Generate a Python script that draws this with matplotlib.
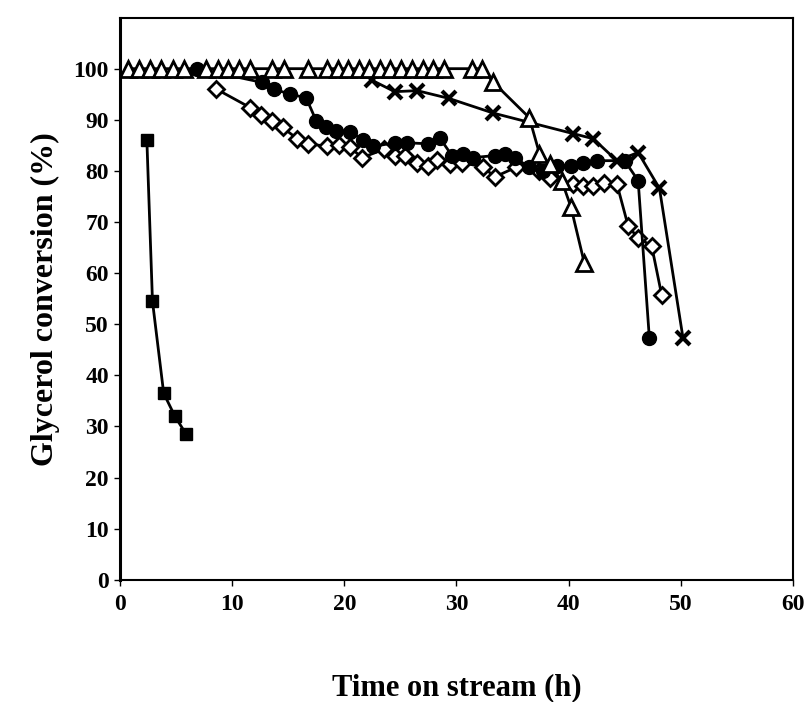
import matplotlib
matplotlib.use("Agg")
import matplotlib.pyplot as plt

# square series (fast deactivation)
sq_t = [2.4, 2.9, 3.9, 4.9, 5.9]
sq_c = [86, 54.5, 36.5, 32, 28.5]

# open triangles
tri_t = [0.7, 1.7, 2.7, 3.7, 4.7, 5.7, 7.7, 8.7, 9.6, 10.6, 11.6,
         13.6, 14.6, 16.8, 18.5, 19.4, 20.3, 21.3, 22.2, 23.2, 24.1,
         25.1, 26.0, 27.0, 27.9, 28.9, 31.4, 32.3, 33.3, 36.5, 37.4,
         38.3, 39.4, 40.2, 41.4]
tri_c = [100, 100, 100, 100, 100, 100, 100, 100, 100, 100, 100,
         100, 100, 100, 100, 100, 100, 100, 100, 100, 100,
         100, 100, 100, 100, 100, 100, 100, 97.3, 90.4, 83.4,
         81.4, 78, 73, 62]

# filled circles
cir_t = [6.9, 12.7, 13.7, 15.2, 16.6, 17.5, 18.4, 19.3, 20.5, 21.7,
         22.6, 24.5, 25.6, 27.5, 28.5, 29.6, 30.6, 31.5, 33.4, 34.3,
         35.2, 36.5, 37.7, 39.0, 40.2, 41.3, 42.5, 45.0, 46.2, 47.2]
cir_c = [100, 97.3, 96, 95, 94.3, 89.8, 88.5, 87.9, 87.7, 86,
         84.8, 85.5, 85.5, 85.3, 86.5, 83, 83.4, 82.6, 83, 83.4,
         82.6, 80.7, 80, 81, 81, 81.5, 82, 82, 78.1, 47.3]

# open diamonds
dia_t = [8.6, 11.6, 12.6, 13.6, 14.5, 15.8, 16.8, 18.5, 19.5, 20.5,
         21.6, 23.5, 24.5, 25.4, 26.5, 27.5, 28.3, 29.4, 30.5, 32.4,
         33.4, 35.3, 37.4, 38.3, 40.4, 41.3, 42.2, 43.2, 44.3, 45.3,
         46.2, 47.4, 48.3]
dia_c = [96, 92.4, 91, 89.8, 88.5, 86.3, 85.3, 84.8, 85, 84.6,
         82.6, 84.2, 83, 83, 81.6, 81, 82.2, 81.4, 81.6, 80.8,
         78.8, 80.7, 80, 78.7, 77.5, 77, 77, 77.7, 77.5, 69.3,
         66.8, 65.4, 55.7]

# crosses
x_t = [22.5, 24.5, 26.5, 29.3, 33.3, 40.4, 42.2, 44.3, 46.2, 48.1, 50.2]
x_c = [97.7, 95.5, 95.7, 94.2, 91.3, 87.3, 86.3, 82, 83.6, 76.6, 47.3]

fig = plt.figure(figsize=(8.05, 7.02), dpi=100)
ax = fig.add_axes([0.149, 0.174, 0.836, 0.801])

lw = 2
ax.plot(sq_t, sq_c, color="black", lw=lw, marker="s", ms=9,
        mfc="black", mec="black", zorder=3)
ax.plot(x_t, x_c, color="black", lw=lw, marker="x", ms=10, mew=3,
        zorder=3)
ax.plot(dia_t, dia_c, color="black", lw=lw, marker="D", ms=8.5,
        mfc="white", mec="black", mew=2, zorder=4)
ax.plot(cir_t, cir_c, color="black", lw=lw, marker="o", ms=10,
        mfc="black", mec="black", zorder=5)
ax.plot(tri_t, tri_c, color="black", lw=lw, marker="^", ms=11.5,
        mfc="white", mec="black", mew=2, zorder=6)

ax.set_xlim(0, 60)
ax.set_ylim(0, 110)
ax.set_xticks(range(0, 61, 10))
ax.set_yticks(range(0, 101, 10))

tick_font = {"family": "Liberation Serif", "weight": "bold", "size": 17}
ax.set_xticklabels([str(v) for v in range(0, 61, 10)], fontdict=tick_font)
ax.set_yticklabels([str(v) for v in range(0, 101, 10)], fontdict=tick_font)
ax.tick_params(axis="x", direction="out", length=4, width=1, pad=6)
ax.tick_params(axis="y", direction="out", length=4, width=1, pad=4)

for side in ["top", "right", "bottom"]:
    ax.spines[side].set_linewidth(1.5)
ax.spines["left"].set_linewidth(2.2)

ax.set_xlabel("Time on stream (h)", family="Liberation Serif",
              weight="bold", size=22, labelpad=42)
ax.set_ylabel("Glycerol conversion (%)", family="Liberation Serif",
              weight="bold", size=23, labelpad=10)

fig.savefig("out.png", dpi=100)
